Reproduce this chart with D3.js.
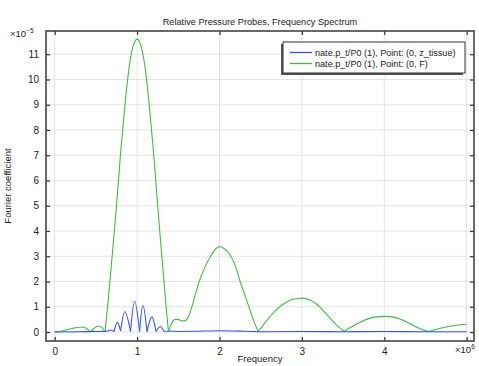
<!DOCTYPE html>
<html><head><meta charset="utf-8">
<script src="https://cdn.jsdelivr.net/npm/d3@7"></script>
<style>body{margin:0;background:#fff}svg{display:block}text{font-family:"Liberation Sans",Arial,sans-serif;fill:#222}</style>
</head><body><svg id="c" width="479" height="366"></svg>
<script>
// Frequency in units of 1e6, coefficient in units of 1e-5
const greenFreq = [0,0.05,0.1,0.15,0.2,0.25,0.3,0.35,0.38,0.43,0.47,0.51,0.54,0.57,0.61,0.65,0.70,0.75,0.80,0.85,0.90,0.95,1.00,1.05,1.10,1.15,1.20,1.25,1.30,1.35,1.38,1.42,1.46,1.50,1.54,1.58,1.62,1.66,1.70,1.76,1.82,1.89,1.95,2.00,2.05,2.13,2.20,2.25,2.31,2.37,2.42,2.47,2.55,2.65,2.75,2.85,2.95,3.00,3.10,3.20,3.30,3.40,3.51,3.60,3.70,3.80,3.90,4.00,4.10,4.20,4.30,4.40,4.54,4.65,4.75,4.85,4.95,5.00];
const greenVal  = [0,0.02,0.05,0.09,0.13,0.17,0.19,0.19,0.15,0.01,0.12,0.22,0.24,0.18,0.0,1.3,3.1,5.0,7.1,8.9,10.4,11.3,11.6,11.3,10.4,8.9,7.1,5.0,3.0,1.1,0.02,0.35,0.5,0.5,0.44,0.44,0.58,0.95,1.4,2.06,2.55,2.98,3.28,3.38,3.32,3.05,2.55,2.0,1.45,0.87,0.4,0.02,0.35,0.75,1.05,1.25,1.33,1.34,1.27,1.05,0.7,0.35,0.02,0.2,0.38,0.52,0.6,0.62,0.6,0.5,0.35,0.18,0.02,0.12,0.2,0.26,0.3,0.31];
const blueFreq = [0,0.3,0.5,0.6,0.65,0.69,0.72,0.76,0.80,0.85,0.92,0.97,1.03,1.07,1.12,1.18,1.23,1.28,1.33,1.40,1.50,1.70,2.00,2.30,2.50,3.00,3.50,4.00,4.50,5.00];
const blueVal  = [0,0.01,0.02,0.02,0.05,0.08,0.02,0.38,0.04,0.80,0.02,1.22,0.02,1.06,0.02,0.60,0.02,0.21,0.02,0.04,0.02,0.03,0.05,0.03,0.01,0.02,0.01,0.02,0.01,0.01];
const xTicks = [0,1,2,3,4,5];
const xTickLabels = ["0","1","2","3","4",""];
const yTicks = [0,1,2,3,4,5,6,7,8,9,10,11];
const seriesNames = ["nate.p_t/P0 (1), Point: (0, z_tissue)","nate.p_t/P0 (1), Point: (0, F)"];
const seriesColors = ["#3453f2","#40bd40"];

const svg = d3.select("#c");
const L=46,R=474,T=31,B=341;
const x = d3.scaleLinear().domain([-0.1056,5.089]).range([L,R]);
const y = d3.scaleLinear().domain([-0.356,11.92]).range([B,T]);

// grid
const g = svg.append("g");
g.selectAll(".gx").data(xTicks).enter().append("line")
 .attr("x1",d=>x(d)).attr("x2",d=>x(d)).attr("y1",T).attr("y2",B).attr("stroke","#e4e4e4").attr("stroke-width",1);
g.selectAll(".gy").data(yTicks).enter().append("line")
 .attr("y1",d=>y(d)).attr("y2",d=>y(d)).attr("x1",L).attr("x2",R).attr("stroke","#e4e4e4").attr("stroke-width",1);

// lines, split at cusp minima
function segments(xs,ys){
  const pts = xs.map((v,i)=>[v,ys[i]]);
  const segs=[]; let cur=[pts[0]];
  for(let i=1;i<pts.length;i++){
    cur.push(pts[i]);
    if(i<pts.length-1 && pts[i][1]<pts[i-1][1] && pts[i][1]<pts[i+1][1]){segs.push(cur);cur=[pts[i]];}
  }
  segs.push(cur); return segs;
}
const line = d3.line().x(d=>x(d[0])).y(d=>y(d[1])).curve(d3.curveMonotoneX);
svg.append("clipPath").attr("id","cp").append("rect").attr("x",L).attr("y",T).attr("width",R-L).attr("height",B-T);
const lines = svg.append("g").attr("clip-path","url(#cp)");
[[greenFreq,greenVal,seriesColors[1]],[blueFreq,blueVal,seriesColors[0]]].forEach(([xs,ys,c])=>{
  lines.selectAll(null).data(segments(xs,ys)).enter().append("path")
   .attr("d",line).attr("fill","none").attr("stroke",c).attr("stroke-width",1.1).attr("stroke-linejoin","round");
});

// axes with inward ticks
svg.append("g").attr("transform",`translate(0,${B})`).call(d3.axisBottom(x).tickValues(xTicks).tickSize(-4).tickPadding(7).tickFormat((d,i)=>xTickLabels[i]));
svg.append("g").attr("transform",`translate(0,${T})`).call(d3.axisTop(x).tickValues(xTicks).tickSize(-4).tickFormat(""));
svg.append("g").attr("transform",`translate(${L},0)`).call(d3.axisLeft(y).tickValues(yTicks).tickSize(-4).tickPadding(7).tickFormat(d3.format("d")));
svg.append("g").attr("transform",`translate(${R},0)`).call(d3.axisRight(y).tickValues(yTicks).tickSize(-4).tickFormat(""));
svg.selectAll(".domain").remove();
svg.selectAll(".tick line").attr("stroke","#333").attr("stroke-width",1.2);
svg.selectAll(".tick text").style("font-family",'"Liberation Sans",Arial,sans-serif').style("font-size","10px").attr("fill","#222");
svg.append("rect").attr("x",L).attr("y",T).attr("width",R-L).attr("height",B-T).attr("fill","none").attr("stroke","#444").attr("stroke-width",1.6);

// texts
svg.append("text").attr("x",(L+R)/2).attr("y",24.5).attr("text-anchor","middle").style("font-size","9.2px").text("Relative Pressure Probes, Frequency Spectrum");
svg.append("text").attr("x",(L+R)/2).attr("y",362).attr("text-anchor","middle").style("font-size","9.5px").text("Frequency");
svg.append("text").attr("transform",`translate(11,${(T+B)/2}) rotate(-90)`).attr("text-anchor","middle").style("font-size","9.5px").text("Fourier coefficient");
const e1 = svg.append("text").attr("x",10).attr("y",37).style("font-size","9.5px");
e1.append("tspan").text("\u00d710");
e1.append("tspan").attr("dy",-4).style("font-size","6.5px").text("\u22125");
const e2 = svg.append("text").attr("x",455).attr("y",353).style("font-size","9.5px");
e2.append("tspan").text("\u00d710");
e2.append("tspan").attr("dy",-4).style("font-size","6.5px").text("6");

// legend
const lx=283, ly=42, lw=182, lh=31;
svg.append("rect").attr("x",lx-2).attr("y",ly+2).attr("width",lw).attr("height",lh).attr("fill","#555");
svg.append("rect").attr("x",lx).attr("y",ly).attr("width",lw).attr("height",lh).attr("fill","#fff").attr("stroke","#333").attr("stroke-width",1);
seriesNames.forEach((n,i)=>{
  const yy = ly+10.5+i*11;
  svg.append("line").attr("x1",lx+7).attr("x2",lx+29).attr("y1",yy).attr("y2",yy).attr("stroke",seriesColors[i]).attr("stroke-width",1.3);
  svg.append("text").attr("x",lx+32).attr("y",yy+3.2).style("font-size","9.1px").text(n);
});
</script></body></html>
